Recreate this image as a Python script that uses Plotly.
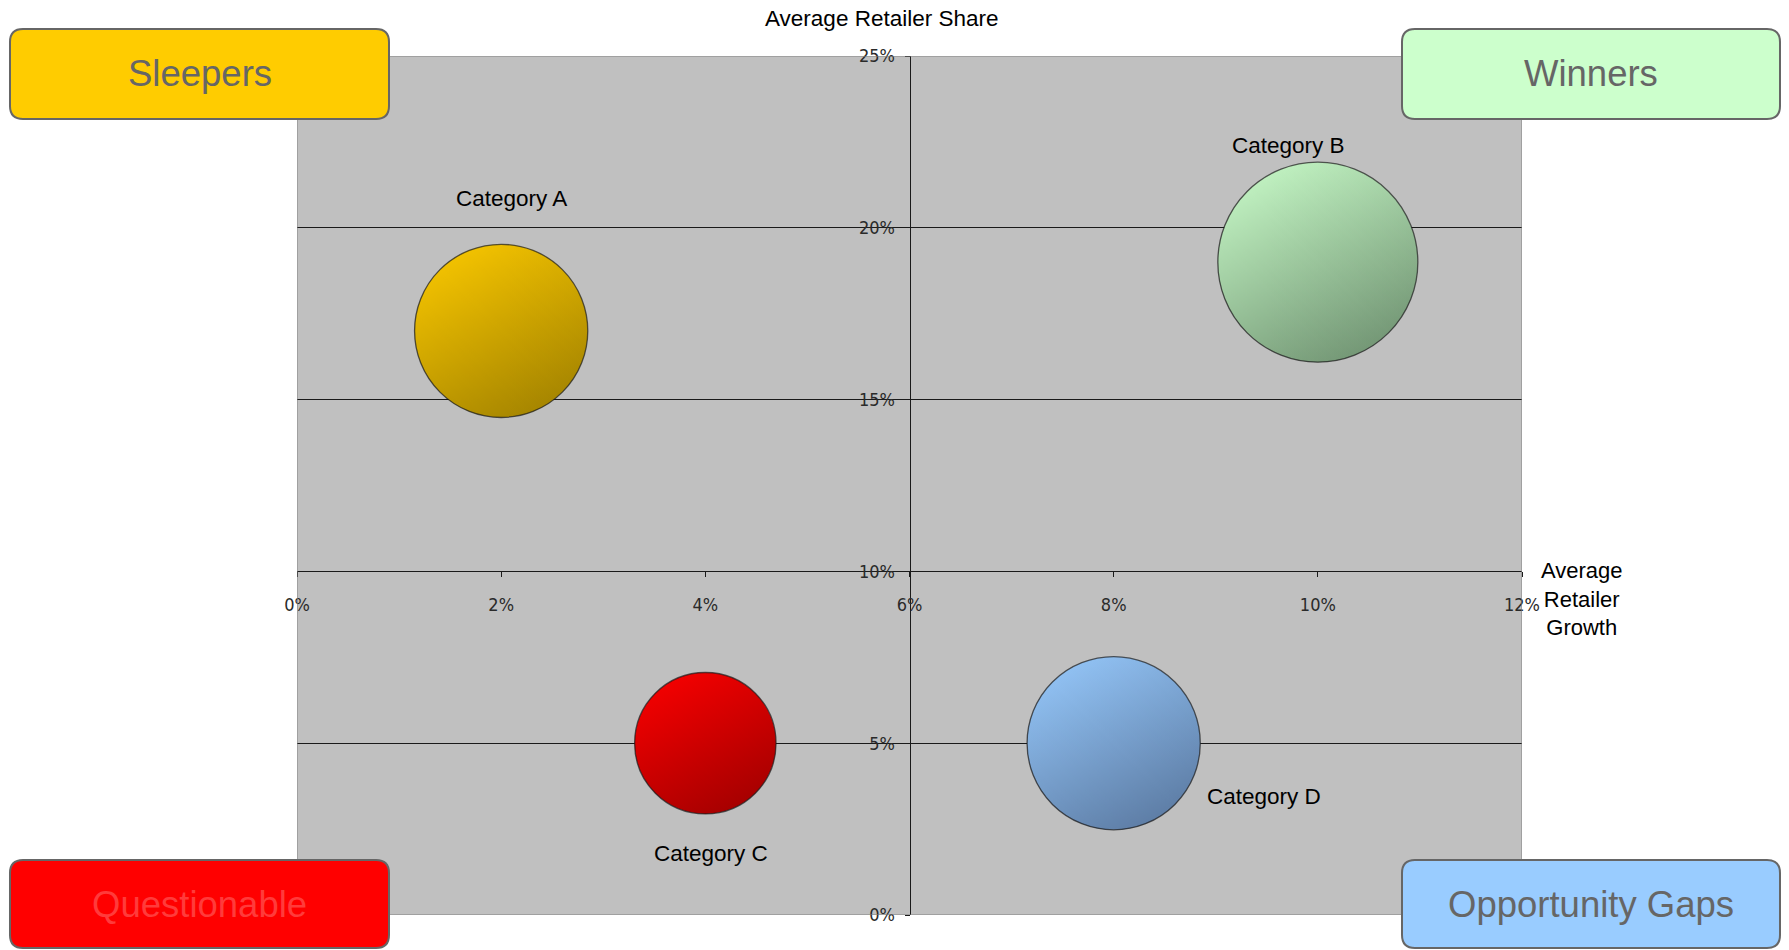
import plotly.graph_objects as go

# ---------------- data ----------------
categories = ["Category A", "Category B", "Category C", "Category D"]
growth = [2, 10, 4, 8]          # Average Retailer Growth (%)
share = [17, 19, 5, 5]          # Average Retailer Share (%)
bubble_size = [30, 40, 20, 30]  # bubble size values
x_ticks = [0, 2, 4, 6, 8, 10, 12]
y_ticks = [0, 5, 10, 15, 20, 25]
quadrants = ["Sleepers", "Winners", "Questionable", "Opportunity Gaps"]

# ---------------- styles ----------------
light_cols = ["#FFCC00", "#CCFFCC", "#FF0000", "#99CCFF"]
dark_cols = ["#9A7C00", "#68896A", "#9A0000", "#56739A"]
label_shift = [(10, 132), (-29, 117), (6, -110), (150, -53)]

W, H = 1789, 950
ML, MR, MT, MB = 297, 267, 56, 35
PW, PH = W - ML - MR, H - MT - MB


def px2x(px):
    return (px - ML) / PW


def px2y(py):
    return (H - MB - py) / PH


def hex_rgba(h, a):
    h = h.lstrip("#")
    return "rgba(%d,%d,%d,%.2f)" % (int(h[0:2], 16), int(h[2:4], 16), int(h[4:6], 16), a)


fig = go.Figure()

sizeref = 2 * max(bubble_size) / (200 ** 2)

# vertical gradient layer
fig.add_trace(go.Scatter(
    x=growth, y=share, mode="markers",
    marker=dict(size=bubble_size, sizemode="area", sizeref=sizeref,
                color=light_cols,
                gradient=dict(type="vertical", color=dark_cols),
                line=dict(width=0), opacity=1),
    hoverinfo="skip", showlegend=False))
# horizontal gradient layer (semi-transparent) -> diagonal look
fig.add_trace(go.Scatter(
    x=growth, y=share, mode="markers", text=categories,
    marker=dict(size=bubble_size, sizemode="area", sizeref=sizeref,
                color=[hex_rgba(c, 0.5) for c in light_cols],
                gradient=dict(type="horizontal", color=[hex_rgba(c, 0.5) for c in dark_cols]),
                line=dict(width=1.3, color="#1a1a1a")),
    showlegend=False))

# category labels
for cat, gx, sy, (dx, dy) in zip(categories, growth, share, label_shift):
    fig.add_annotation(x=gx, y=sy, xref="x", yref="y", text=cat, showarrow=False,
                       xshift=dx, yshift=dy,
                       font=dict(family="Liberation Sans, Arial", size=22.5, color="#000000"))

# plot border
fig.add_shape(type="rect", xref="x", yref="y", x0=x_ticks[0], x1=x_ticks[-1],
              y0=y_ticks[0], y1=y_ticks[-1], line=dict(color="#808080", width=1), layer="above")

# axis titles
fig.add_annotation(xref="paper", yref="paper", x=px2x(881), y=px2y(18), text="Average Retailer Share",
                   showarrow=False, xanchor="center", yanchor="middle",
                   font=dict(family="Liberation Sans, Arial", size=22.5, color="#000000"))
fig.add_annotation(xref="paper", yref="paper", x=px2x(1582), y=px2y(599),
                   text="Average<br>Retailer<br>Growth",
                   showarrow=False, xanchor="center", yanchor="middle", align="center",
                   font=dict(family="Liberation Sans, Arial", size=22, color="#000000"))

# quadrant boxes
boxes = [(10, 29, 389, 119), (1402, 29, 1780, 119), (10, 860, 389, 948), (1402, 860, 1780, 948)]
box_fill = ["#FFCC00", "#CCFFCC", "#FF0000", "#99CCFF"]
box_text = ["#666666", "#666666", "#FF3B3B", "#666666"]
r = 13
for name, (x0, y0, x1, y1), fc, tc in zip(quadrants, boxes, box_fill, box_text):
    pts = dict(
        a=(px2x(x0 + r), px2y(y0)), b=(px2x(x1 - r), px2y(y0)), c=(px2x(x1), px2y(y0)),
        d=(px2x(x1), px2y(y0 + r)), e=(px2x(x1), px2y(y1 - r)), f=(px2x(x1), px2y(y1)),
        g=(px2x(x1 - r), px2y(y1)), h=(px2x(x0 + r), px2y(y1)), i=(px2x(x0), px2y(y1)),
        j=(px2x(x0), px2y(y1 - r)), k=(px2x(x0), px2y(y0 + r)), l=(px2x(x0), px2y(y0)))
    P = lambda p: "%.5f,%.5f" % pts[p]
    path = ("M %s L %s Q %s %s L %s Q %s %s L %s Q %s %s L %s Q %s %s Z" %
            (P("a"), P("b"), P("c"), P("d"), P("e"), P("f"), P("g"), P("h"),
             P("i"), P("j"), P("k"), P("l"), P("a")))
    fig.add_shape(type="path", xref="paper", yref="paper", path=path,
                  fillcolor=fc, line=dict(color="#666666", width=2), layer="above")
    fig.add_annotation(xref="paper", yref="paper", x=px2x((x0 + x1) / 2), y=px2y((y0 + y1) / 2),
                       text=name, showarrow=False, xanchor="center", yanchor="middle",
                       font=dict(family="Liberation Sans, Arial", size=36.5, color=tc))

tick_font = dict(family="Liberation Sans Narrow, DejaVu Sans Condensed, Arial Narrow", size=18, color="#2a2a2a")

fig.update_layout(
    width=W, height=H,
    margin=dict(l=ML, r=MR, t=MT, b=MB, pad=0),
    paper_bgcolor="#FFFFFF", plot_bgcolor="#C0C0C0",
    showlegend=False,
    xaxis=dict(range=[x_ticks[0], x_ticks[-1]], tickvals=x_ticks,
               ticktext=["%d%%" % v for v in x_ticks],
               anchor="free", position=(10 - y_ticks[0]) / (y_ticks[-1] - y_ticks[0]),
               showline=True, linecolor="#1a1a1a", linewidth=1,
               ticks="outside", ticklen=5, tickcolor="#1a1a1a",
               ticklabelstandoff=12,
               showgrid=False, zeroline=False, tickfont=tick_font, domain=[0, 1]),
    yaxis=dict(range=[y_ticks[0], y_ticks[-1]], tickvals=y_ticks,
               ticktext=["%d%%" % v for v in y_ticks],
               anchor="free", position=(6 - x_ticks[0]) / (x_ticks[-1] - x_ticks[0]),
               showline=True, linecolor="#1a1a1a", linewidth=1,
               ticks="outside", ticklen=5, tickcolor="#1a1a1a",
               ticklabelstandoff=6,
               showgrid=True, gridcolor="#1a1a1a", gridwidth=1,
               zeroline=False, tickfont=tick_font, domain=[0, 1]),
)

fig.write_html("out.html")
